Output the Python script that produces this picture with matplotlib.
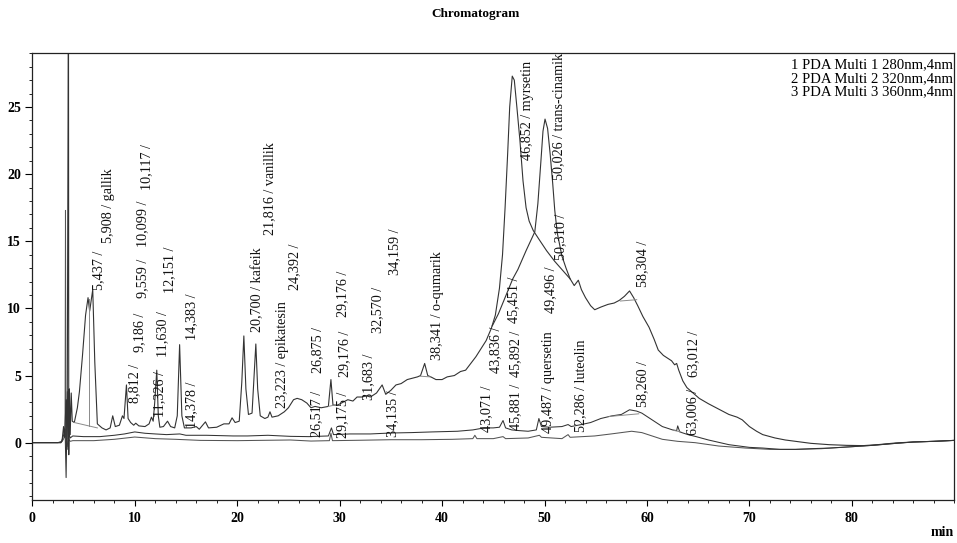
import matplotlib
matplotlib.use("Agg")
import matplotlib.pyplot as plt
from matplotlib.ticker import MultipleLocator

# ---- data ----
t1 = [0, 2.5, 2.9, 3.05, 3.15, 3.3, 3.4, 3.53, 3.56, 3.62, 3.7, 3.8, 3.9, 4.1, 4.4, 4.6, 4.9, 5.2, 5.44, 5.6, 5.9,
      6.1, 6.35, 6.8, 7.2, 7.6, 7.85, 8.1, 8.5, 8.8, 8.95, 9.19, 9.35, 9.6, 9.9, 10.1, 10.4, 11.0, 11.4, 11.63,
      11.8, 11.95, 12.15, 12.3, 12.45, 12.8, 13.2, 13.5, 13.9, 14.15, 14.38, 14.6, 14.85, 15.5, 16.0, 16.3, 16.9,
      17.2, 18.0, 18.7, 19.2, 19.5, 19.8, 20.2, 20.45, 20.65, 20.85, 21.1, 21.45, 21.65, 21.82, 22.0, 22.25, 22.7,
      23.0, 23.2, 23.4, 24.0, 24.6, 25.0, 25.5, 25.85, 26.3, 26.8, 27.2, 27.6, 28.2, 28.9, 29.15, 29.35, 29.8,
      30.3, 30.8, 31.3, 31.7, 32.2, 32.6, 33.0, 33.6, 34.15, 34.5, 35.0, 35.5, 36.0, 36.6, 37.1, 37.6, 37.9, 38.3,
      38.6, 38.9, 39.4, 40.0, 40.5, 41.2, 41.8, 42.3, 42.8, 43.3, 43.8, 44.3, 44.8, 45.2, 45.6, 45.9, 46.15, 46.4,
      46.6, 46.85, 47.05, 47.3, 47.6, 47.9, 48.2, 48.5, 48.9, 49.5, 50.2, 51.0, 51.8, 52.5, 52.9, 53.3, 53.6,
      54.0, 54.5, 54.9, 55.5, 56.2, 56.8, 57.3, 57.8, 58.3, 58.7, 59.1, 59.6, 60.2, 60.7, 61.1, 61.6, 62.0, 62.4,
      62.7, 62.9, 63.1, 63.5, 63.9, 64.5, 65.1, 66.0, 67.0, 68.0, 68.8, 69.3, 70.0, 70.7, 71.3, 72.5, 73.5, 74.5,
      76.0, 77.8, 79.5, 81.1, 82.5, 84.3, 86.0, 88.0, 90.0]
y1 = [0, 0, 0.1, 1.2, 0.4, 3.2, -0.5, 35.0, -0.9, 4.0, 0.6, 3.7, 1.6, 1.5, 2.6, 3.8, 6.5, 9.5, 10.8, 9.8, 11.4,
      6.0, 1.4, 1.1, 0.95, 1.1, 2.0, 1.2, 1.3, 2.0, 1.8, 4.3, 1.8, 1.5, 1.3, 1.45, 1.25, 1.2, 1.4, 1.9,
      1.6, 3.0, 5.4, 2.0, 1.15, 1.2, 1.6, 1.2, 1.1, 2.0, 7.3, 2.0, 1.1, 1.1, 1.2, 1.0, 1.55,
      1.1, 1.15, 1.4, 1.4, 1.85, 1.5, 1.6, 4.5, 7.95, 4.0, 2.1, 2.2, 5.0, 7.35, 4.0, 2.0, 1.8,
      1.9, 2.3, 1.9, 2.0, 2.3, 2.6, 3.2, 3.3, 3.2, 2.95, 2.6, 2.7, 2.6, 2.7, 4.7, 2.8, 2.8,
      3.0, 3.2, 3.1, 3.4, 3.4, 3.5, 3.4, 3.7, 4.3, 3.6, 3.9, 4.3, 4.4, 4.7, 4.8, 4.9, 5.0, 5.9,
      5.0, 4.9, 4.7, 4.7, 4.9, 5.0, 5.3, 5.4, 5.9, 6.4, 7.0, 7.6, 8.5, 9.5, 11.5, 14.0, 17.5, 21.5,
      25.0, 27.3, 27.0, 25.0, 22.5, 19.5, 17.5, 16.5, 15.8, 15.1, 14.3, 13.5, 12.8, 12.2, 11.7, 12.1, 11.4,
      10.8, 10.2, 9.9, 10.1, 10.3, 10.4, 10.6, 10.9, 11.3, 10.8, 10.2, 9.4, 8.6, 7.7, 6.9, 6.5, 6.3, 6.1,
      5.8, 5.9, 5.4, 4.6, 4.1, 3.7, 3.3, 2.9, 2.5, 2.1, 1.9, 1.7, 1.2, 0.85, 0.6, 0.35, 0.2, 0.1,
      -0.05, -0.15, -0.2, -0.22, -0.15, -0.02, 0.05, 0.1, 0.17]

# second overlapping branch of the 280 nm trace (50,026 peak)
t1b = [44.9, 45.5, 46.2, 46.9, 47.4, 48.2, 49.05, 49.35, 49.65, 49.85, 50.05, 50.3, 50.55, 50.8, 51.0, 51.25,
       51.7, 52.1, 52.5]
y1b = [8.7, 9.6, 10.9, 12.2, 12.9, 14.3, 15.7, 17.8, 21.0, 23.2, 24.1, 23.4, 21.5, 19.3, 17.3, 15.6,
       13.9, 13.0, 12.2]

t2 = [0, 2.8, 3.0, 3.2, 3.3, 3.42, 3.5, 3.6, 3.7, 3.95, 5.0, 6.6, 8.0, 9.0, 10.0, 11.0, 12.0, 13.1, 14.4, 15.0,
      17.0, 19.6, 21.0, 23.0, 25.2, 27.0, 28.9, 29.2, 29.4, 31.0, 33.0, 35.0, 37.0, 39.0, 41.5, 43.0, 44.1,
      45.0, 45.6, 45.95, 46.2, 46.8, 47.5, 48.4, 49.2, 49.45, 49.7, 50.5, 51.7, 52.3, 52.6, 53.6, 54.5, 55.5,
      56.6, 57.5, 58.3, 59.0, 59.5, 60.5, 61.5, 62.5, 62.9, 63.0, 63.2, 64.0, 64.7, 66.0, 68.0, 70.0, 71.3,
      73.0, 74.5, 76.0, 77.8, 80.0, 82.0, 84.3, 86.0, 88.0, 90.0]
y2 = [0, 0, 0.4, 1.0, -2.6, 3.8, 0.3, 0.6, 0.35, 0.5, 0.45, 0.45, 0.55, 0.65, 0.8, 0.7, 0.65, 0.6, 0.65, 0.55,
      0.55, 0.5, 0.5, 0.55, 0.47, 0.45, 0.5, 1.1, 0.6, 0.65, 0.65, 0.72, 0.75, 0.8, 0.85, 0.95, 1.1,
      1.1, 1.15, 1.65, 1.1, 0.95, 0.9, 0.85, 0.95, 1.8, 1.2, 1.15, 1.2, 1.35, 1.2, 1.35, 1.5, 1.8,
      2.0, 2.1, 2.45, 2.35, 2.2, 1.7, 1.2, 0.95, 0.9, 1.25, 0.8, 0.6, 0.47, 0.2, -0.15, -0.35, -0.4,
      -0.5, -0.5, -0.45, -0.4, -0.3, -0.2, -0.05, 0.05, 0.1, 0.17]

t3 = [0, 2.8, 3.0, 3.2, 3.24, 3.28, 3.4, 3.5, 3.7, 3.95, 6.0, 8.0, 10.0, 12.0, 14.0, 16.4, 20.0, 25.2, 27.2,
      29.0, 29.15, 29.3, 32.0, 35.0, 38.0, 41.0, 43.0, 43.2, 43.4, 45.0, 45.95, 46.2, 48.4, 49.5, 49.7, 51.7,
      52.3, 52.5, 54.9, 56.5, 58.5, 59.5, 61.5, 63.0, 64.7, 67.0, 69.6, 72.0, 74.5, 77.0, 80.0, 82.0, 84.3,
      86.0, 88.0, 90.0]
y3 = [0, 0, 0.2, 0.5, 17.3, 0.0, -0.3, 0.3, 0.1, 0.15, 0.15, 0.25, 0.42, 0.3, 0.25, 0.17, 0.15, 0.2, 0.12,
      0.15, 0.7, 0.15, 0.18, 0.22, 0.22, 0.25, 0.3, 0.55, 0.3, 0.3, 0.45, 0.3, 0.35, 0.55, 0.4, 0.3,
      0.6, 0.4, 0.5, 0.65, 0.85, 0.75, 0.25, 0.1, 0.0, -0.25, -0.4, -0.5, -0.5, -0.45, -0.3, -0.2, -0.05,
      0.05, 0.1, 0.17]

# integration baselines / drop lines (start t, start y, end t, end y)
base_t0 = [4.1, 5.52, 37.9, 57.4, 56.3, 28.9, 62.7]
base_y0 = [1.5, 10.7, 4.95, 10.55, 1.95, 2.7, 0.9]
base_t1 = [6.35, 5.52, 38.85, 59.0, 59.2, 29.5, 63.3]
base_y1 = [1.1, 1.25, 4.9, 10.65, 2.15, 2.8, 0.8]

peak_labels = ["5,437 /", "5,908 / gallik", "8,812 /", "9,186 /", "9,559 /", "10,099 /", "10,117 /",
               "11,326 /", "11,630 /", "12,151 /", "14,378 /", "14,383 /", "20,700 / kafeik",
               "21,816 / vanillik", "23,223 / epikatesin", "24,392 /", "26,517 /", "26,875 /", "29,175 /",
               "29,176 /", "29,176 /", "31,683 /", "32,570 /", "34,135 /", "34,159 /", "38,341 / o-qumarik",
               "43,071 /", "43,836 /", "45,881 /", "45,892 /", "45,451 /", "46,852 / myrsetin",
               "49,487 / quersetin", "49,496 /", "50,310 /", "50,026 / trans-cinamik", "52,286 / luteolin",
               "58,260 /", "58,304 /", "63,006 /", "63,012 /"]
label_x = [6.51, 7.39, 10.03, 10.52, 10.76, 10.81, 11.2, 12.47, 12.76, 13.45, 15.6, 15.6, 22.04, 23.21, 24.38,
           25.65, 27.8, 27.9, 30.34, 30.54, 30.34, 32.79, 33.76, 35.22, 35.42, 39.52, 44.4, 45.19, 47.14, 47.14,
           46.95, 48.31, 50.36, 50.56, 51.54, 51.34, 53.49, 59.54, 59.54, 64.42, 64.52]
label_y = [11.37, 14.87, 2.96, 6.75, 10.77, 14.57, 18.8, 1.91, 6.38, 11.15, 1.1, 7.65, 8.24, 15.47, 2.58,
           11.37, 0.42, 5.19, 0.35, 4.89, 9.36, 3.18, 8.17, 0.42, 12.49, 6.16, 0.8, 5.19, 0.95, 4.89,
           8.92, 21.05, 0.72, 9.66, 13.6, 19.56, 0.8, 2.66, 11.6, 0.57, 4.89]

legend_lines = ["1 PDA Multi 1 280nm,4nm", "2 PDA Multi 2 320nm,4nm", "3 PDA Multi 3 360nm,4nm"]
xticks = [0, 10, 20, 30, 40, 50, 60, 70, 80]
yticks = [0, 5, 10, 15, 20, 25]

# ---- drawing ----
serif = ["Liberation Serif", "DejaVu Serif"]
plt.rcParams["font.family"] = serif

fig = plt.figure(figsize=(9.57, 5.43), dpi=100)
ax = fig.add_axes([32.3 / 957, 1 - 500 / 543, (954.3 - 32.3) / 957, (500 - 53.3) / 543])

lc = "#333333"
ax.plot(t3, y3, color="#555555", lw=0.75)
ax.plot(t2, y2, color=lc, lw=0.75)
ax.plot(t1, y1, color=lc, lw=0.8)
ax.plot(t1b, y1b, color=lc, lw=0.8)
for a, b, c, d in zip(base_t0, base_y0, base_t1, base_y1):
    ax.plot([a, c], [b, d], color="#8a8a8a", lw=0.7)

for txt, x, y in zip(peak_labels, label_x, label_y):
    ax.text(x, y, txt, rotation=90, ha="center", va="bottom", fontsize=10.2, color="#111111")

ax.set_xlim(0, 90)
ax.set_ylim(-4.27, 29.0)
ax.set_xticks(xticks)
ax.set_yticks(yticks)
ax.xaxis.set_minor_locator(MultipleLocator(2))
ax.yaxis.set_minor_locator(MultipleLocator(1))
ax.tick_params(axis="both", which="major", direction="out", length=5, width=0.8, labelsize=10, pad=3)
ax.tick_params(axis="both", which="minor", direction="out", length=2.5, width=0.6)
ax.tick_params(axis="x", which="major", length=4, pad=5)
ax.tick_params(top=False, right=False)
for lab in ax.get_xticklabels() + ax.get_yticklabels():
    lab.set_fontweight("bold")
for s in ax.spines.values():
    s.set_linewidth(0.9)
    s.set_color("#222222")

for i, line in enumerate(legend_lines):
    fig.text(953 / 957, 1 - (65 + 13.4 * i) / 543, line, ha="right", va="center", fontsize=10.6)

fig.text(0.497, 1 - 14 / 543, "Chromatogram", ha="center", va="center", fontsize=9.5, fontweight="bold")
fig.text(942 / 957, 1 - 533 / 543, "min", ha="center", va="center", fontsize=10, fontweight="bold")

fig.savefig("out.png", dpi=100)
